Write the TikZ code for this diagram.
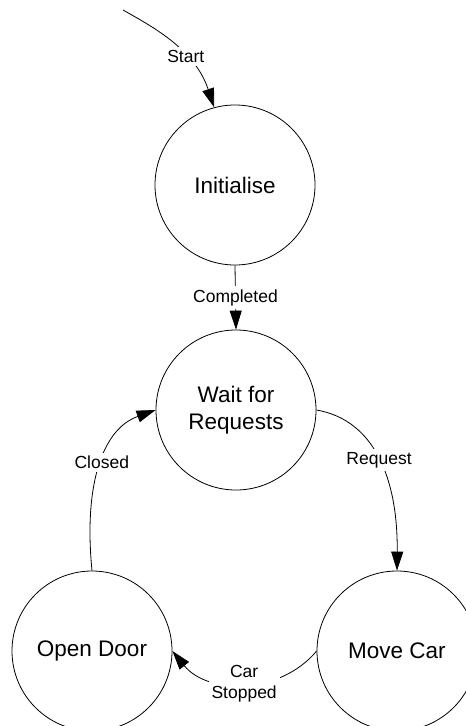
\documentclass[tikz,border=0pt]{standalone}
\usepackage{fontspec}
\setmainfont{Liberation Sans}
\usetikzlibrary{arrows.meta}
\tikzset{
  state/.style={circle, draw, line width=0.8pt, minimum size=160pt, inner sep=0pt,
    align=center, font=\fontsize{22.5}{27}\selectfont},
  lbl/.style={fill=white, inner sep=3pt, align=center, font=\fontsize{17.5}{21}\selectfont},
  trans/.style={draw, line width=0.8pt, -{Triangle[length=19pt,width=12pt]}}
}
\begin{document}
\begin{tikzpicture}[x=1pt,y=-1pt]
  \path[use as bounding box, clip] (0,0) rectangle (466,726);

  % states
  \node[state] (init) at (235,185) {Initialise};
  \node[state] (wait) at (236,410) {Wait for\\Requests};
  \node[state] (door) at (92,651) {Open Door};
  \node[state] (move) at (397,651) {Move Car};

  % entry transition
  \coordinate (entry) at (123,10);
  \draw[trans] (entry) .. controls (155,28) and (195,50) .. (init.105)
    node[lbl,pos=.63] {Start};

  % transitions between states
  \draw[trans] (init.south) -- node[lbl] {Completed} (wait.north);
  \draw[trans] (wait.east) .. controls (375,420) and (398,480) .. (move.north)
    node[lbl,pos=.5] {Request};
  \draw[trans] (move.west) .. controls (280,695) and (208,695) .. (door.east)
    node[lbl,pos=.5] {Car\\Stopped};
  \draw[trans] (door.north) .. controls (84,490) and (100,430) .. (wait.west)
    node[lbl,pos=.53] {Closed};
\end{tikzpicture}
\end{document}
